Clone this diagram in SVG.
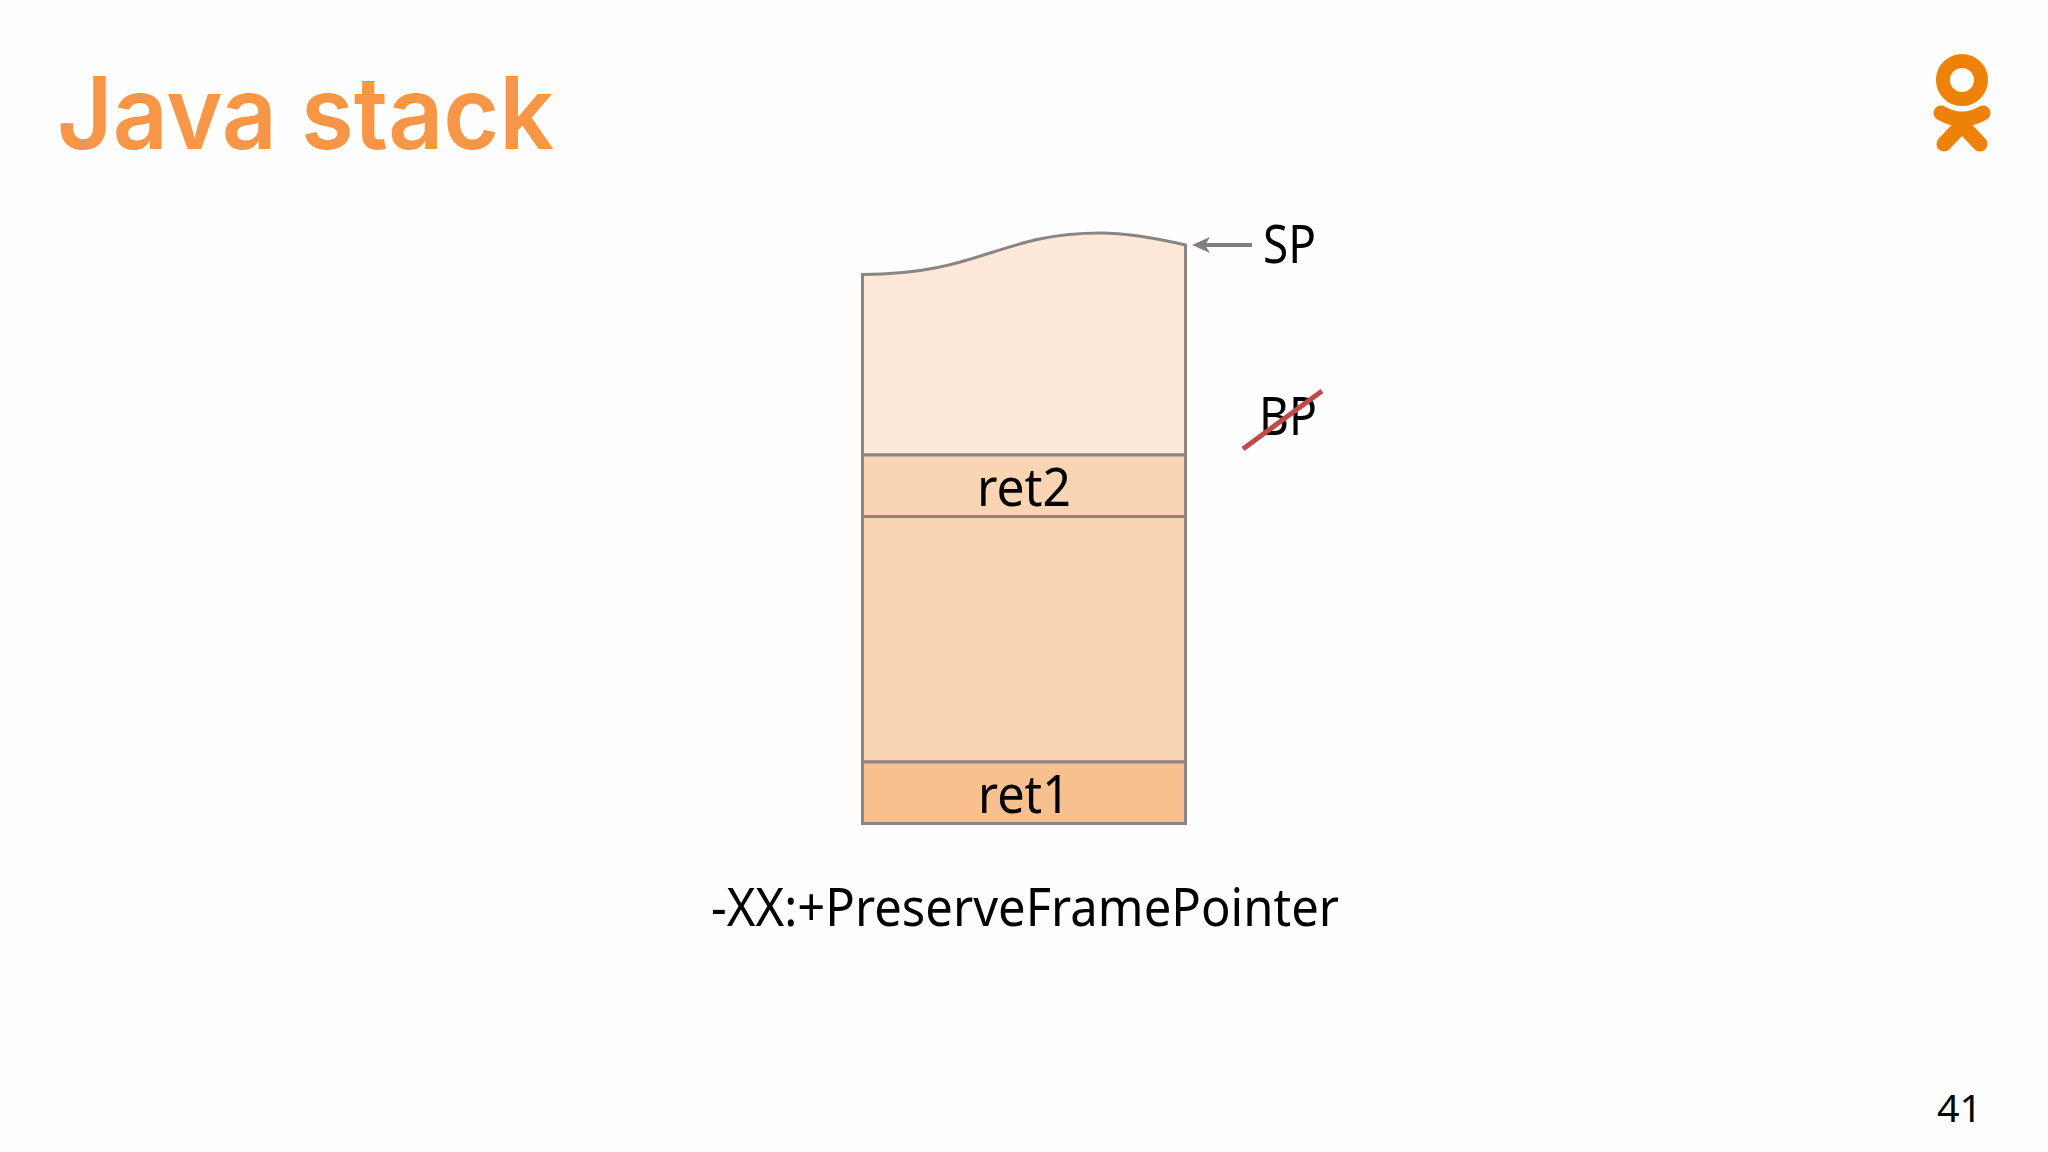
<svg xmlns="http://www.w3.org/2000/svg" width="2048" height="1152" viewBox="0 0 2048 1152">
<style>
.b{stroke:#8a8484;stroke-width:3}
.t{font-family:"Noto Sans","Open Sans",sans-serif;fill:#000;font-size:53px}
.m{text-anchor:middle}
</style>
<defs>
<marker id="ah" markerWidth="18" markerHeight="16" refX="6" refY="8" orient="auto" markerUnits="userSpaceOnUse" viewBox="0 0 18 16"><path d="M18 8L0 0L5 8L0 16Z" fill="#7f7f7f"/></marker>
</defs>
<rect width="2048" height="1152" fill="#fefefe"/>
<text id="title" x="57" y="149" font-family="Inter,sans-serif" font-weight="600" font-size="101" fill="#f79646" textLength="497" lengthAdjust="spacingAndGlyphs">Java stack</text>
<g id="logo" fill="none" stroke="#ee8208">
<circle cx="1962" cy="80" r="19" stroke-width="14"/>
<path d="M1941 113Q1962 125 1983 113" stroke-width="15" stroke-linecap="round"/>
<path d="M1944 144L1962 125L1980 144" stroke-width="15" stroke-linecap="round"/>
</g>
<g id="node-top"><path class="b" fill="#fee8d9" d="M862.500 274.500C980 274.500 1000 233 1100 233C1130 233 1160 239 1185.500 245V455H862.500Z"/></g>
<g id="node-ret2"><rect class="b" x="862.500" y="455" width="323" height="61.500" fill="#f9d5b4"/><text class="t m" x="1024" y="506" textLength="94" lengthAdjust="spacingAndGlyphs">ret2</text></g>
<g id="node-mid"><rect class="b" x="862.500" y="516.500" width="323" height="245.500" fill="#f9d5b4"/></g>
<g id="node-ret1"><rect class="b" x="862.500" y="762" width="323" height="61.500" fill="#f8bf8f"/><text class="t m" x="1024" y="813" textLength="92" lengthAdjust="spacingAndGlyphs">ret1</text></g>
<g id="node-sp"><text class="t" x="1263" y="263" textLength="53" lengthAdjust="spacingAndGlyphs">SP</text></g>
<g id="node-bp"><text class="t" x="1259" y="435" textLength="58" lengthAdjust="spacingAndGlyphs">BP</text></g>
<g id="connectors">
<line x1="1252" y1="245" x2="1204" y2="245" stroke="#7f7f7f" stroke-width="4" marker-end="url(#ah)"/>
<line x1="1243" y1="449" x2="1322" y2="391" stroke="#be4b48" stroke-width="5"/>
</g>
<text id="flag" class="t m" x="1025" y="926" textLength="628" lengthAdjust="spacingAndGlyphs">-XX:+PreserveFramePointer</text>
<text id="page" x="1937" y="1122" font-family="Noto Sans,sans-serif" font-size="38" fill="#000" textLength="45" lengthAdjust="spacingAndGlyphs">41</text>
</svg>
